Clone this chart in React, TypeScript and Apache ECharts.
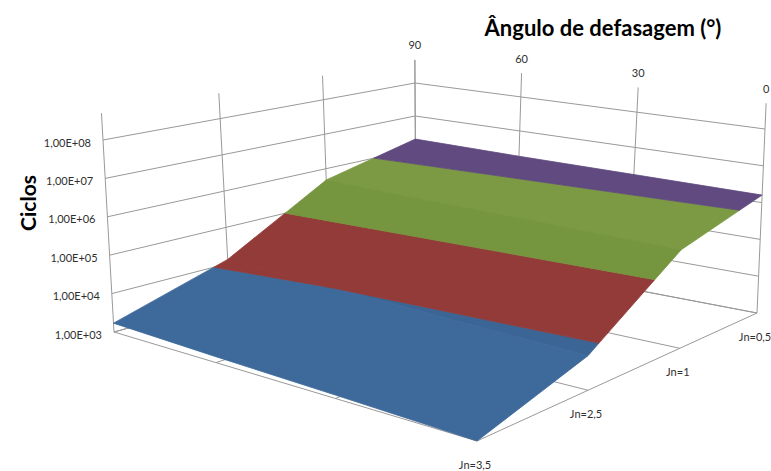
import React, { useEffect, useRef } from "react";
import * as echarts from "echarts";

const WIDTH = 771;
const HEIGHT = 471;

// Categories, ordered from the back corner of the box outwards.
const angleLabels = ["90", "60", "30", "0"];
const jnLabels = ["Jn=0,5", "Jn=1", "Jn=2,5", "Jn=3,5"];
const cycleTicks = ["1,00E+03", "1,00E+04", "1,00E+05", "1,00E+06", "1,00E+07", "1,00E+08"];

// Fatigue life in cycles; each row follows angleLabels.
const cyclesJn05 = [2.0e6, 1.8e6, 1.7e6, 1.6e6];
const cyclesJn1 = [4.7e5, 4.0e5, 3.6e5, 3.2e5];
const cyclesJn25 = [1.3e4, 1.0e4, 8.0e3, 6.5e3];
const cyclesJn35 = [1.7e3, 1.4e3, 1.2e3, 1.0e3];
const cycleRows = [cyclesJn05, cyclesJn1, cyclesJn25, cyclesJn35];

// One colour per decade of the surface; the shade varies with the facet row.
const bandLabels = ["1,00E+03-1,00E+04", "1,00E+04-1,00E+05", "1,00E+05-1,00E+06", "1,00E+06-1,00E+07"];
const bandFloors = [3, 4, 5, 6];
const bandShades = [
  ["#3e6a9b", "#3b6595", "#3e6a9b"],
  ["#933b38", "#933b38", "#933b38"],
  ["#7c9a43", "#76953f", "#76953f"],
  ["#604a7f", "#604a7f", "#604a7f"],
];

const GRID_COLOR = "#999999";
const LABEL_FONT = "11px Lato";
const LOG_MIN = 3;
const LOG_MAX = 8;
const WALL_TOP = 8.7;

type Pt = [number, number];

// Maps the unit square to a quadrilateral: (0,0) back, (1,0) right, (1,1) front, (0,1) left.
function makeHomography(q: Pt[]) {
  const [[x0, y0], [x1, y1], [x2, y2], [x3, y3]] = q;
  const dx1 = x1 - x2, dx2 = x3 - x2, sx = x0 - x1 + x2 - x3;
  const dy1 = y1 - y2, dy2 = y3 - y2, sy = y0 - y1 + y2 - y3;
  const det = dx1 * dy2 - dx2 * dy1;
  const g = (sx * dy2 - dx2 * sy) / det;
  const h = (dx1 * sy - sx * dy1) / det;
  const a = x1 - x0 + g * x1, b = x3 - x0 + h * x3;
  const d = y1 - y0 + g * y1, e = y3 - y0 + h * y3;
  return (u: number, v: number): Pt => {
    const w = g * u + h * v + 1;
    return [(a * u + b * v + x0) / w, (d * u + e * v + y0) / w];
  };
}

const floorPlane = makeHomography([[416, 248], [757, 313], [477, 441], [114, 332]]);
const topPlane = makeHomography([[415, 83], [765, 129], [478, 208], [103, 140]]);

// u runs along the angle axis, v along the Jn axis, z is log10(cycles).
function project(u: number, v: number, z: number): Pt {
  const f = floorPlane(u, v);
  const t = topPlane(u, v);
  const k = (z - LOG_MIN) / (LOG_MAX - LOG_MIN);
  return [f[0] + (t[0] - f[0]) * k, f[1] + (t[1] - f[1]) * k];
}

type V3 = [number, number, number];

// Keeps the part of a strip that lies between two levels of z.
function clipBand(poly: V3[], lo: number, hi: number): V3[] {
  const clip = (pts: V3[], inside: (p: V3) => boolean, level: number) => {
    const out: V3[] = [];
    pts.forEach((p, i) => {
      const q = pts[(i + 1) % pts.length];
      const pIn = inside(p), qIn = inside(q);
      if (pIn) out.push(p);
      if (pIn !== qIn) {
        const t = (level - p[2]) / (q[2] - p[2]);
        out.push([p[0] + (q[0] - p[0]) * t, p[1] + (q[1] - p[1]) * t, level]);
      }
    });
    return out;
  };
  return clip(clip(poly, (p) => p[2] >= lo, lo), (p) => p[2] <= hi, hi);
}

function nodeOf(row: number, col: number): V3 {
  return [col / 3, row / 3, Math.log10(cycleRows[row][col])];
}

// Outline of the strip between one Jn row and the next.
function rowStrip(row: number): V3[] {
  const near = angleLabels.map((_, col) => nodeOf(row, col));
  const far = angleLabels.map((_, col) => nodeOf(row + 1, col)).reverse();
  return [...near, ...far];
}

const stripRows = [[0], [1], [2]];

// Wall and floor rules as pairs of box coordinates.
const rules: number[][] = [];
for (let i = 0; i <= LOG_MAX - LOG_MIN; i++) {
  const z = LOG_MIN + i;
  rules.push([0, 1, z, 0, 0, z], [0, 0, z, 1, 0, z]);
}
for (let i = 0; i < 4; i++) {
  rules.push([0, i / 3, LOG_MIN, 0, i / 3, WALL_TOP]);
  rules.push([i / 3, 0, LOG_MIN, i / 3, 0, WALL_TOP]);
  rules.push([0, i / 3, LOG_MIN, 1, i / 3, LOG_MIN]);
  rules.push([i / 3, 0, LOG_MIN, i / 3, 1, LOG_MIN]);
}

function buildOption() {
  const texts: any[] = [];
  const addText = (text: string, x: number, y: number, font: string, fill: string, align = "center", rotation = 0) => {
    texts.push({
      type: "text",
      x,
      y,
      rotation,
      style: { text, font, fill, textAlign: align, textVerticalAlign: "middle" },
    });
  };

  cycleTicks.forEach((label, i) => {
    const [x, y] = project(0, 1, LOG_MIN + i);
    addText(label, x - 12, y + 2, LABEL_FONT, "#2f2f2f", "right");
  });
  angleLabels.forEach((label, i) => {
    const [x, y] = project(i / 3, 0, WALL_TOP);
    addText(label, x, y - 15, LABEL_FONT, "#2f2f2f");
  });
  jnLabels.forEach((label, i) => {
    const [x, y] = project(1, i / 3, LOG_MIN);
    addText(label, x - 2, y + 23, LABEL_FONT, "#2f2f2f");
  });
  addText("Ângulo de defasagem (°)", 603, 27, "bold 22px Lato", "#000000");
  addText("Ciclos", 27, 203, "bold 21px Lato", "#000000", "center", Math.PI / 2);

  const surfaceSeries = bandLabels.map((name, band) => ({
    type: "custom",
    name,
    coordinateSystem: "cartesian2d",
    silent: true,
    z: 3,
    data: stripRows,
    renderItem: (_params: any, api: any) => {
      const row = api.value(0);
      const lo = bandFloors[band];
      const part = clipBand(rowStrip(row), lo, lo + 1);
      if (part.length < 3) return null;
      const points = part.map((p) => api.coord(project(p[0], p[1], p[2])));
      const fill = bandShades[band][row];
      return {
        type: "polygon",
        shape: { points },
        style: { fill, stroke: fill, lineWidth: 0.8 },
      };
    },
  }));

  return {
    animation: false,
    backgroundColor: "#ffffff",
    grid: { left: 0, right: 0, top: 0, bottom: 0 },
    xAxis: { type: "value", min: 0, max: WIDTH, show: false },
    yAxis: { type: "value", min: 0, max: HEIGHT, inverse: true, show: false },
    graphic: texts,
    series: [
      {
        type: "custom",
        name: "rules",
        coordinateSystem: "cartesian2d",
        silent: true,
        z: 2,
        data: rules,
        renderItem: (_params: any, api: any) => {
          const a = api.coord(project(api.value(0), api.value(1), api.value(2)));
          const b = api.coord(project(api.value(3), api.value(4), api.value(5)));
          return {
            type: "line",
            shape: { x1: a[0], y1: a[1], x2: b[0], y2: b[1] },
            style: { stroke: GRID_COLOR, lineWidth: 1 },
          };
        },
      },
      ...surfaceSeries,
    ],
  };
}

export default function App() {
  const ref = useRef<HTMLDivElement>(null);

  useEffect(() => {
    document.body.style.margin = "0";
    const chart = echarts.init(ref.current!, undefined, { renderer: "svg" });
    chart.setOption(buildOption() as any);
    return () => chart.dispose();
  }, []);

  return <div ref={ref} style={{ width: WIDTH, height: HEIGHT }} />;
}
